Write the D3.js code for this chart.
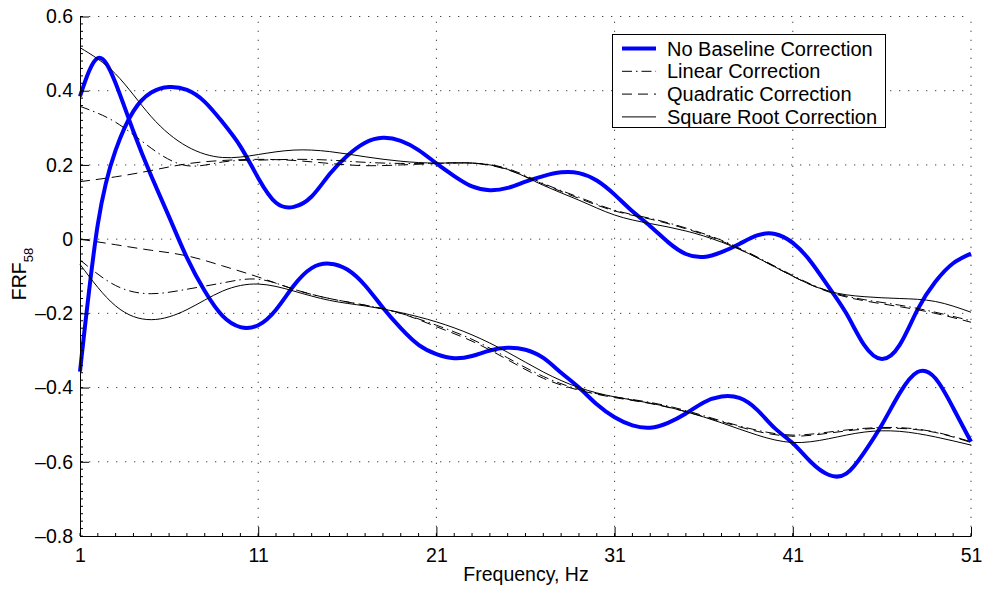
<!DOCTYPE html>
<html>
<head>
<meta charset="utf-8">
<script src="https://cdn.jsdelivr.net/npm/d3@7"></script>
<style>
  body { margin: 0; background: #fff; }
  text { font-family: "Liberation Sans", Arial, sans-serif; fill: #000; }
</style>
</head>
<body>
<div id="chart"></div>
<script>
// frequency grid (Hz)
const freq = [1,2,3,4,5,6,7,8,9,10,11,12,13,14,15,16,17,18,19,20,21,22,23,24,25,26,
  27,28,29,30,31,32,33,34,35,36,37,38,39,40,41,42,43,44,45,46,47,48,49,50,51];
const freq2 = [1,3,5,7,9,11,13,15,17,19,21,23,25,27,29,31,33,35,37,39,41,43,45,47,49,51];

// no baseline correction (two components)
const noCorrA = [0.385,0.488,0.42,0.29,0.17,0.06,-0.05,-0.14,-0.207,-0.237,-0.232,-0.19,-0.125,-0.078,
  -0.066,-0.082,-0.125,-0.185,-0.24,-0.285,-0.31,-0.321,-0.315,-0.30,-0.293,-0.298,-0.32,-0.36,-0.40,
  -0.445,-0.48,-0.502,-0.508,-0.495,-0.47,-0.44,-0.424,-0.428,-0.46,-0.51,-0.55,-0.60,-0.635,-0.632,
  -0.575,-0.50,-0.415,-0.358,-0.375,-0.455,-0.546];
const noCorrB = [-0.357,0.04,0.24,0.345,0.395,0.41,0.402,0.37,0.315,0.25,0.165,0.098,0.087,0.115,0.175,
  0.225,0.26,0.273,0.265,0.24,0.204,0.17,0.142,0.132,0.138,0.155,0.17,0.18,0.178,0.158,0.12,0.075,
  0.035,-0.008,-0.04,-0.048,-0.035,-0.013,0.01,0.014,-0.01,-0.06,-0.128,-0.2,-0.285,-0.323,-0.285,
  -0.19,-0.115,-0.065,-0.039];

// corrected curves, every 2 Hz
const linearA = [0.358,0.315,0.245,0.198,0.208,0.213,0.215,0.213,0.207,0.204,0.204,0.205,0.19,0.15,
  0.113,0.078,0.056,0.03,-0.003,-0.048,-0.098,-0.14,-0.163,-0.178,-0.197,-0.22];
const linearB = [-0.056,-0.125,-0.147,-0.135,-0.118,-0.108,-0.135,-0.16,-0.178,-0.2,-0.232,-0.27,
  -0.32,-0.37,-0.405,-0.425,-0.44,-0.462,-0.49,-0.515,-0.528,-0.52,-0.51,-0.508,-0.52,-0.546];
const quadA = [0.155,0.168,0.185,0.203,0.212,0.215,0.212,0.204,0.198,0.2,0.204,0.205,0.187,0.148,
  0.11,0.076,0.054,0.028,-0.005,-0.05,-0.1,-0.142,-0.166,-0.182,-0.2,-0.224];
const quadB = [0,-0.015,-0.03,-0.045,-0.072,-0.102,-0.135,-0.16,-0.178,-0.2,-0.236,-0.275,-0.325,
  -0.375,-0.407,-0.427,-0.443,-0.465,-0.492,-0.518,-0.531,-0.523,-0.512,-0.51,-0.521,-0.548];
const sqrtA = [0.516,0.445,0.33,0.25,0.22,0.228,0.24,0.236,0.222,0.21,0.205,0.205,0.188,0.145,
  0.105,0.065,0.042,0.022,-0.008,-0.05,-0.10,-0.14,-0.155,-0.16,-0.168,-0.197];
const sqrtB = [-0.068,-0.18,-0.217,-0.19,-0.14,-0.121,-0.14,-0.165,-0.18,-0.198,-0.223,-0.258,
  -0.305,-0.358,-0.4,-0.425,-0.442,-0.465,-0.495,-0.528,-0.548,-0.538,-0.52,-0.518,-0.533,-0.555];

const xTicks = [1,11,21,31,41,51];
const yTicks = [-0.8,-0.6,-0.4,-0.2,0,0.2,0.4,0.6];
const legendLabels = ["No Baseline Correction","Linear Correction","Quadratic Correction","Square Root Correction"];

const width = 984, height = 593;
const margin = {top: 16.5, right: 13, bottom: 57, left: 80};

const styles = {
  none: {stroke: "#0000ff", width: 4, dash: null},
  linear: {stroke: "#000", width: 1, dash: "10,4,1.5,4"},
  quad: {stroke: "#000", width: 1, dash: "10,6"},
  sqrt: {stroke: "#000", width: 1, dash: null}
};

const series = [
  {key: "none", x: freq, y: noCorrA},
  {key: "none", x: freq, y: noCorrB},
  {key: "linear", x: freq2, y: linearA},
  {key: "linear", x: freq2, y: linearB},
  {key: "quad", x: freq2, y: quadA},
  {key: "quad", x: freq2, y: quadB},
  {key: "sqrt", x: freq2, y: sqrtA},
  {key: "sqrt", x: freq2, y: sqrtB}
];

const svg = d3.select("#chart").append("svg")
  .attr("width", width).attr("height", height);

const xScale = d3.scaleLinear().domain([1, 51]).range([margin.left, width - margin.right]);
const yScale = d3.scaleLinear().domain([-0.8, 0.6]).range([height - margin.bottom, margin.top]);

// dotted grid
const grid = svg.append("g").attr("stroke", "#444").attr("stroke-width", 1)
  .attr("stroke-dasharray", "1.3,7.7");
grid.selectAll("line.v").data(xTicks.slice(1)).join("line").attr("class", "v")
  .attr("x1", d => xScale(d)).attr("x2", d => xScale(d))
  .attr("y1", yScale(-0.8)).attr("y2", yScale(0.6));
grid.selectAll("line.h").data(yTicks.slice(1)).join("line").attr("class", "h")
  .attr("x1", xScale(1)).attr("x2", xScale(51))
  .attr("y1", d => yScale(d)).attr("y2", d => yScale(d));

// curves
const line = d3.line().curve(d3.curveNatural);
svg.append("g").selectAll("path").data(series).join("path")
  .attr("fill", "none")
  .attr("stroke", d => styles[d.key].stroke)
  .attr("stroke-width", d => styles[d.key].width)
  .attr("stroke-dasharray", d => styles[d.key].dash)
  .attr("stroke-linejoin", "round")
  .attr("d", d => line(d.x.map((f, i) => [xScale(f), yScale(d.y[i])])));

// minor ticks
const minor = svg.append("g").attr("stroke", "#000").attr("stroke-width", 1);
minor.selectAll("line.mx").data(freq).join("line").attr("class", "mx")
  .attr("x1", d => xScale(d)).attr("x2", d => xScale(d))
  .attr("y1", yScale(-0.8)).attr("y2", yScale(-0.8) - 3);
minor.selectAll("line.my").data(d3.range(0, 71)).join("line").attr("class", "my")
  .attr("y1", d => yScale(-0.8 + d * 0.02)).attr("y2", d => yScale(-0.8 + d * 0.02))
  .attr("x1", xScale(1)).attr("x2", xScale(1) + 3);

const minusFmt = d => (d < 0 ? "\u2013" : "") + (d === 0 ? "0" : Math.abs(d).toFixed(1));

// axes
svg.append("g")
  .attr("transform", `translate(0,${yScale(-0.8)})`)
  .call(d3.axisBottom(xScale).tickValues(xTicks).tickSizeInner(-9).tickSizeOuter(0).tickPadding(12))
  .call(g => g.select(".domain").attr("stroke", "#000"))
  .call(g => g.selectAll("text").attr("font-size", 19.5).attr("font-family", "Liberation Sans, Arial, sans-serif"));

svg.append("g")
  .attr("transform", `translate(${xScale(1)},0)`)
  .call(d3.axisLeft(yScale).tickValues(yTicks).tickFormat(minusFmt).tickSizeInner(-9).tickSizeOuter(0).tickPadding(7))
  .call(g => g.select(".domain").attr("stroke", "#000"))
  .call(g => g.selectAll("text").attr("font-size", 19.5).attr("font-family", "Liberation Sans, Arial, sans-serif"));

// axis labels
svg.append("text")
  .attr("x", 526).attr("y", 581)
  .attr("text-anchor", "middle").attr("font-size", 19.5)
  .text("Frequency, Hz");

const yl = svg.append("text")
  .attr("transform", "translate(25.5,274) rotate(-90)")
  .attr("text-anchor", "middle").attr("font-size", 19.5);
yl.append("tspan").text("FRF");
yl.append("tspan").attr("font-size", 13).attr("dy", 7).text("58");

// legend
const legend = svg.append("g");
legend.append("rect")
  .attr("x", 612.5).attr("y", 34.5).attr("width", 273).attr("height", 93)
  .attr("fill", "#fff").attr("stroke", "#000").attr("stroke-width", 1);
const rows = legend.selectAll("g.row").data(["none", "linear", "quad", "sqrt"]).join("g")
  .attr("class", "row")
  .attr("transform", (d, i) => `translate(0,${48.5 + i * 22.8})`);
rows.append("line")
  .attr("x1", 622).attr("x2", 656).attr("y1", 0).attr("y2", 0)
  .attr("stroke", d => styles[d].stroke)
  .attr("stroke-width", d => styles[d].width)
  .attr("stroke-dasharray", d => styles[d].dash);
rows.append("text")
  .attr("x", 667).attr("y", 0).attr("dy", "0.35em")
  .attr("font-size", 20)
  .text((d, i) => legendLabels[i]);
</script>
</body>
</html>
